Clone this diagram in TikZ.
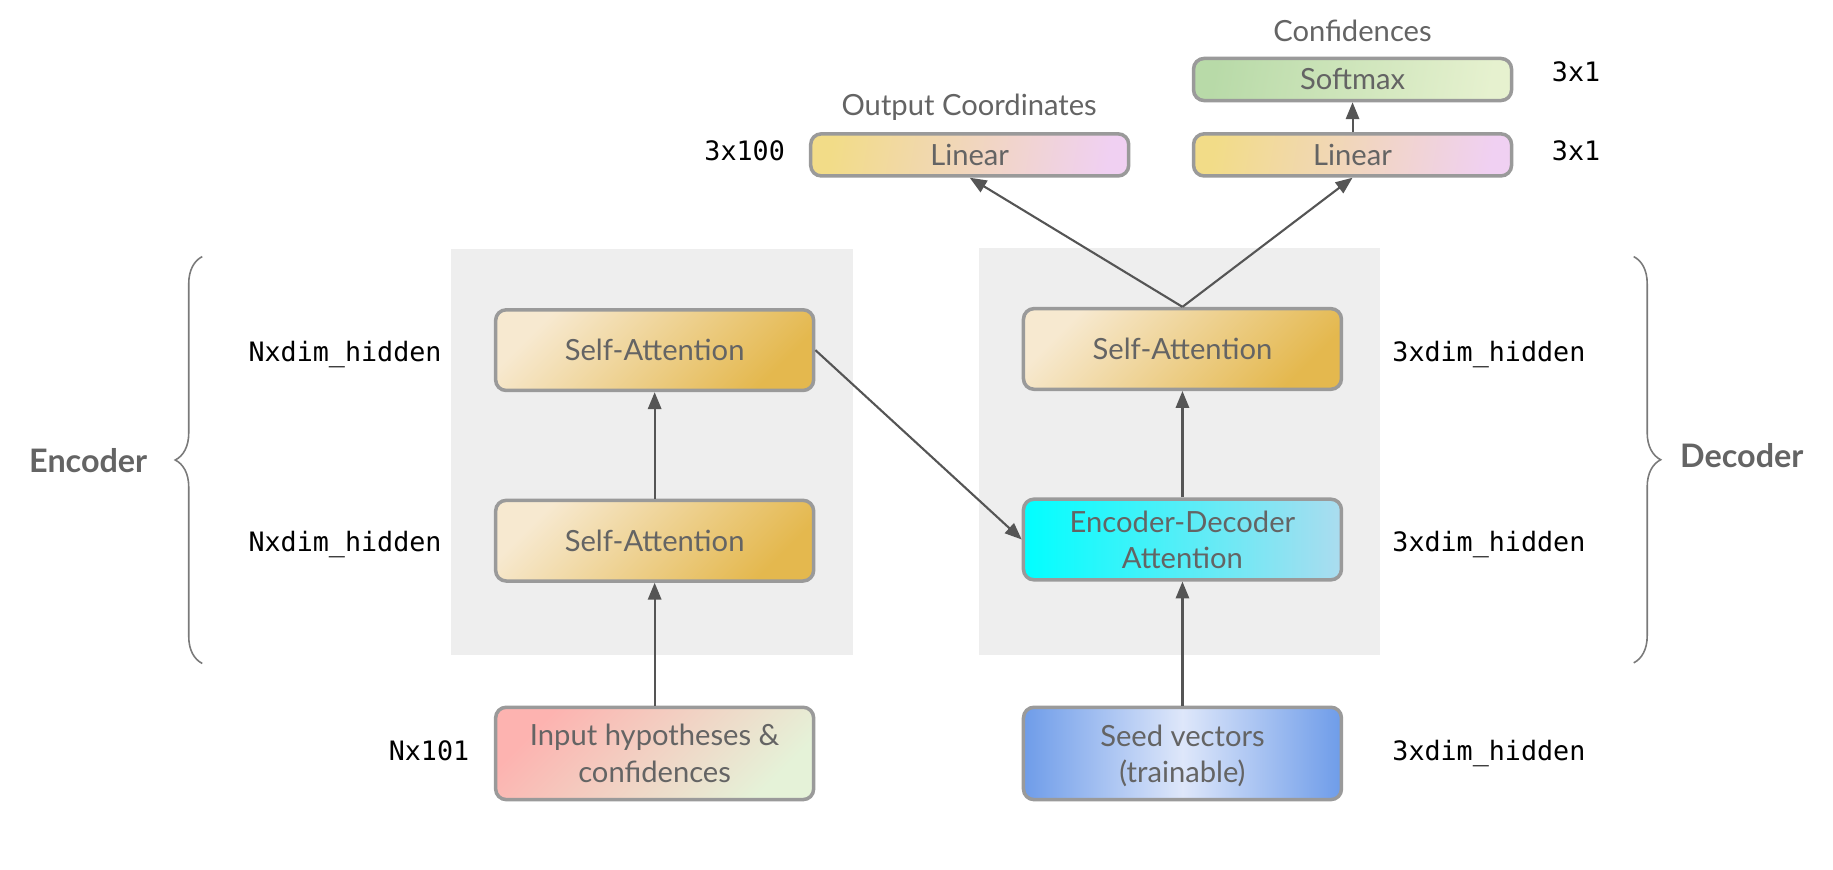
\documentclass[tikz,border=0pt]{standalone}
\usepackage{fontspec}
\setmainfont{Lato}
\newfontfamily\monof{DejaVu Sans Mono}
\usetikzlibrary{arrows.meta,decorations.pathreplacing}
\definecolor{txtgray}{HTML}{646464}
\definecolor{bordergray}{HTML}{9A9A9A}
\definecolor{arrgray}{HTML}{555555}
\definecolor{bggray}{HTML}{EEEEEE}
\definecolor{bracegray}{HTML}{7A7A7A}
\definecolor{saA}{HTML}{F7E9D0}
\definecolor{saB}{HTML}{E4B84E}
\definecolor{inA}{HTML}{FDB3B0}
\definecolor{inB}{HTML}{E5F2D8}
\definecolor{edA}{HTML}{00FFFF}
\definecolor{edB}{HTML}{ABDCEF}
\definecolor{seA}{HTML}{6E9CE9}
\definecolor{seB}{HTML}{DEE7FA}
\definecolor{liA}{HTML}{F2DC88}
\definecolor{liB}{HTML}{F0D0F2}
\definecolor{soA}{HTML}{B8DAA8}
\definecolor{soB}{HTML}{E6F1CF}
\newcommand\dpx{0.1169mm}
\begin{document}
\begin{tikzpicture}[x=0.1169mm,y=-0.1169mm,
  box/.style={draw=bordergray, line width=1pt, rounded corners=3pt, text=txtgray,
    font=\fontsize{8.3}{10.3}\selectfont, align=center, inner sep=0pt},
  one/.style={text height=5.95pt, text depth=0pt},
  big/.style={minimum width=272*\dpx, minimum height=69*\dpx},
  tall/.style={minimum width=272*\dpx, minimum height=79*\dpx},
  flat/.style={minimum width=272*\dpx, minimum height=36*\dpx},
  sashade/.style={left color=saA, right color=saB, shading angle=45},
  mono/.style={font=\monof\fontsize{7.6}{9}\selectfont, text=black, inner sep=0pt, anchor=base west},
  captext/.style={font=\fontsize{8.3}{10.3}\selectfont, text=txtgray, inner sep=0pt, anchor=base},
  side/.style={font=\bfseries\fontsize{9.2}{11}\selectfont, text=txtgray, inner sep=0pt, anchor=base},
  arr/.style={draw=arrgray, line width=0.6pt, -{Triangle[length=4.8pt,width=3.8pt]}},
  bracepath/.style={draw=bracegray, line width=0.45pt, decorate, decoration={brace, amplitude=2.7mm}}
]
\useasboundingbox (0,0) rectangle (1568,743.4);

% background panels
\fill[bggray] (386,213) rectangle (729.5,560.5);
\fill[bggray] (837.5,212) rectangle (1180.5,560);

% encoder boxes
\node[box, big, one, sashade] (encSA2) at (560,299.5) {Self-Attention};
\node[box, big, one, sashade] (encSA1) at (560,462.5) {Self-Attention};
\node[box, tall, left color=inA, right color=inB, shading angle=45] (inp) at (560,644.5) {Input hypotheses \&\\confidences};

% decoder boxes
\node[box, big, one, sashade] (decSA) at (1011.5,298.5) {Self-Attention};
\node[box, big, left color=edA, right color=edB] (eda) at (1011.5,461.5) {Encoder-Decoder\\Attention};
\node[box, tall, text depth=0pt, left color=seA, right color=seA, middle color=seB] (seed) at (1011.5,644.5) {Seed vectors\\(trainable)};

% heads
\node[box, flat, one, left color=liA, right color=liB, shading angle=80] (linL) at (829.5,132.5) {Linear};
\node[box, flat, one, left color=liA, right color=liB, shading angle=80] (linR) at (1157,132.5) {Linear};
\node[box, flat, one, left color=soA, right color=soB, shading angle=80] (soft) at (1157,68) {Softmax};

\node[captext] (tOut) at (829,99.2) {Output Coordinates};
\node[captext] (tConf) at (1157,35.6) {Confidences};

% arrows
\draw[arr] (inp.north) -- (encSA1.south);
\draw[arr] (encSA1.north) -- (encSA2.south);
\draw[arr] (seed.north) -- (eda.south);
\draw[arr] (eda.north) -- (decSA.south);
\draw[arr] (encSA2.east) -- (eda.west);
\draw[arr] (decSA.north) -- (linL.south);
\draw[arr] (decSA.north) -- (linR.south);
\draw[arr] (linR.north) -- (soft.south);

% dimension labels
\node[mono] (dE2) at (212,309.5) {Nxdim\_hidden};
\node[mono] (dE1) at (212,472) {Nxdim\_hidden};
\node[mono] (dIn) at (332,650.5) {Nx101};
\node[mono] (dD2) at (1190.5,309.3) {3xdim\_hidden};
\node[mono] (dD1) at (1190.5,472) {3xdim\_hidden};
\node[mono] (dSe) at (1190.5,650.5) {3xdim\_hidden};
\node[mono] (dLL) at (602,137.5) {3x100};
\node[mono] (dLR) at (1327,137.7) {3x1};
\node[mono] (dSo) at (1327,69.3) {3x1};

% braces
\coordinate (ebt) at (173,219.5);
\coordinate (ebb) at (173,567.5);
\coordinate (dbt) at (1397.5,219.5);
\coordinate (dbb) at (1397.5,567);
\draw[bracepath] (ebb) -- (ebt);
\draw[bracepath] (dbt) -- (dbb);
\node[side] (tEnc) at (75.5,404) {Encoder};
\node[side] (tDec) at (1490,399.5) {Decoder};
\end{tikzpicture}
\end{document}
